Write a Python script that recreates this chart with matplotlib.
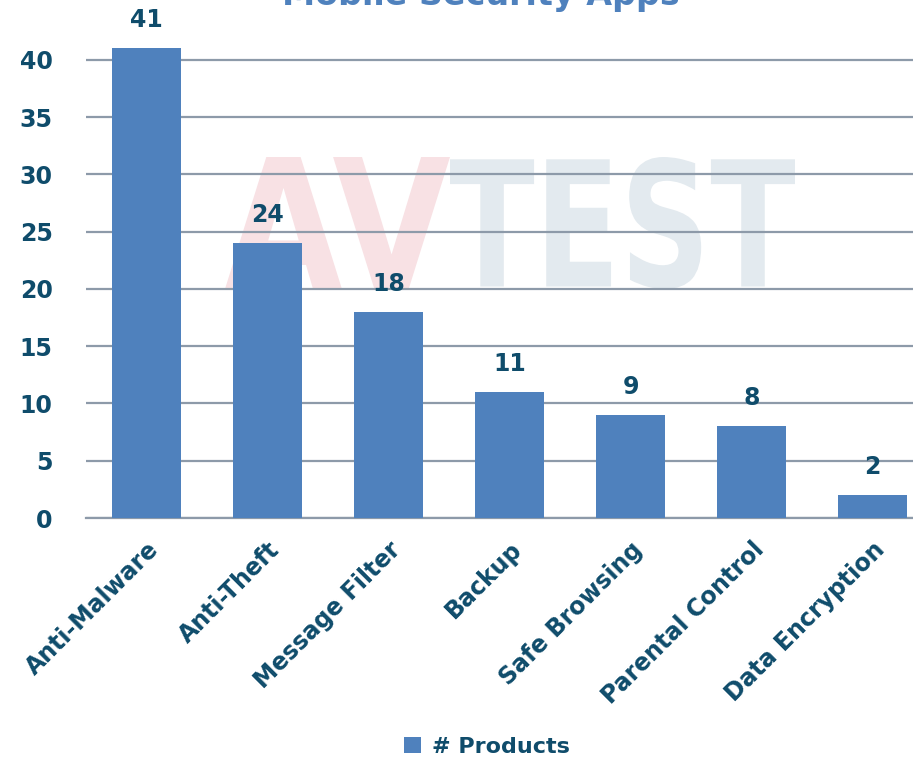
import numpy as np
import matplotlib.pyplot as plt
from matplotlib.textpath import TextPath
from matplotlib.patches import PathPatch
from matplotlib.font_manager import FontProperties
from matplotlib.transforms import Affine2D, IdentityTransform

# datos del grafico
categorias = ["Anti-Malware", "Anti-Theft", "Message Filter", "Backup",
              "Safe Browsing", "Parental Control", "Data Encryption"]
productos = [41, 24, 18, 11, 9, 8, 2]
yticks = [0, 5, 10, 15, 20, 25, 30, 35, 40]

azul = "#4F81BD"
oscuro = "#0F4C6B"
gris = "#8D9AA9"
fuente = "DejaVu Sans"

fig = plt.figure(figsize=(9.13, 7.58), dpi=100)
ax = fig.add_axes([86/913, 240/758, 847/913, 504/758])
ax.patch.set_alpha(0)

# marca de agua AV-TEST (en pixeles), detras de todo
def marca(texto, x0, y0, x1, y1, color):
    tp = TextPath((0, 0), texto, size=100,
                  prop=FontProperties(family="DejaVu Sans", weight="bold"))
    ext = tp.get_extents()
    sx = (x1 - x0) / ext.width
    sy = (y1 - y0) / ext.height
    tr = Affine2D().translate(-ext.x0, -ext.y0).scale(sx, sy).translate(x0, 758 - y1)
    fig.patches.append(PathPatch(tr.transform_path(tp), facecolor=color,
                                 edgecolor="none", transform=IdentityTransform(),
                                 zorder=-5))

marca("AV", 225, 157, 450, 289, "#F8E1E4")
marca("TEST", 450, 157, 795, 289, "#E3EAEF")

x = np.arange(len(categorias))
ax.bar(x, productos, width=0.57, color=azul, zorder=3)
for xi, v in zip(x, productos):
    ax.text(xi, v + 1.4, str(v), ha="center", va="bottom", fontsize=17,
            fontweight="bold", color=oscuro, family=fuente)

ax.set_xlim(-0.5, 6.5)
ax.set_ylim(0, 44)
ax.set_yticks(yticks)
ax.yaxis.grid(True, color=gris, linewidth=1.6, zorder=1)
ax.set_axisbelow(True)
for s in ["left", "right", "top"]:
    ax.spines[s].set_visible(False)
ax.spines["bottom"].set_color(gris)
ax.spines["bottom"].set_linewidth(1.6)
ax.tick_params(length=0)
ax.tick_params(axis="y", pad=24)
ax.set_yticklabels([str(t) for t in yticks], fontsize=17, fontweight="bold",
                   color=oscuro, family=fuente)
ax.set_xticks(x)
ax.set_xticklabels(categorias, rotation=45, ha="right", va="top",
                   rotation_mode="anchor", fontsize=17, fontweight="bold",
                   color=oscuro, family=fuente)
ax.tick_params(axis="x", pad=14)

fig.text(481/913, 1 - 12/758, "Mobile Security Apps", ha="center", va="bottom",
         fontsize=24, fontweight="bold", color=azul, family=fuente)

ax.bar([0], [0], color=azul, label="# Products")
fig.legend(loc="center", bbox_to_anchor=(487/913, 1 - 747/758), frameon=False,
           prop=FontProperties(family=fuente, weight="bold", size=16),
           labelcolor=oscuro, handlelength=0.75, handleheight=0.75,
           handletextpad=0.5)

fig.savefig("out.png", dpi=100)
